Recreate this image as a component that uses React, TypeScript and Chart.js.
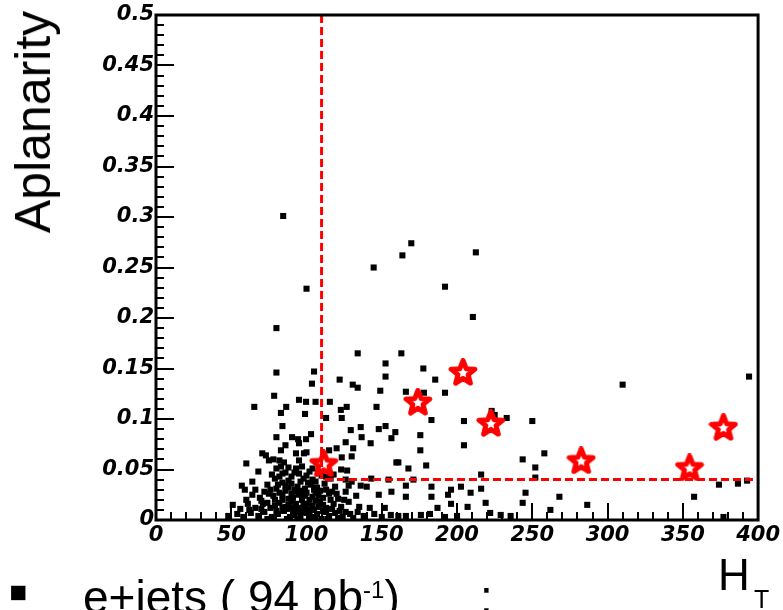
import React, { useEffect, useRef } from "react";
import { Chart, registerables } from "chart.js";

Chart.register(...registerables);

const xTickValues = [0, 50, 100, 150, 200, 250, 300, 350, 400];
const xTickLabels = ["0", "50", "100", "150", "200", "250", "300", "350", "400"];
const yTickLabels = ["0", "0.05", "0.1", "0.15", "0.2", "0.25", "0.3", "0.35", "0.4", "0.45", "0.5"];

// Selected candidate events (red stars): [HT, Aplanarity]
const candidateEvents: [number, number][] = [
  [111.5, 0.056], [174, 0.117], [204, 0.1465], [222.5, 0.096],
  [282.5, 0.059], [354.5, 0.052], [377, 0.092],
];

// Cut lines: HT > 110, Aplanarity > 0.04
const cutHT = [110, 110, 397];
const cutApl = [0.5, 0.04, 0.04];

// Data events (black squares): [HT, Aplanarity]
const sparseEvents: [number, number][] = [
  [84.5, 0.301], [169.6, 0.274], [163.7, 0.262], [212.5, 0.265], [144.6, 0.25], [192, 0.231], [100, 0.229],
  [210.5, 0.201], [80, 0.19], [134, 0.165], [163, 0.165],
  [152.5, 0.155], [177.6, 0.15], [80, 0.146], [105, 0.147], [122, 0.139], [103.6, 0.135], [130.7, 0.134],
  [134, 0.131], [152.5, 0.142], [185.5, 0.139], [149, 0.128], [166, 0.127], [192, 0.126], [178, 0.126],
  [310, 0.134], [394, 0.142],
];

const midEvents: [number, number][] = [
  [78.5, 0.123], [95, 0.119], [99.7, 0.117], [106, 0.117], [115.5, 0.117], [65.3, 0.112], [83, 0.106],
  [86.5, 0.112], [99, 0.105], [122.8, 0.109], [126.7, 0.112], [123.4, 0.101], [113, 0.101], [146.5, 0.112],
  [183, 0.099], [204.6, 0.098], [223, 0.108], [225, 0.104], [233, 0.101], [250, 0.098],
  [84, 0.093], [129.4, 0.089], [136, 0.092], [148, 0.09], [152.5, 0.093], [159, 0.087], [80, 0.082],
  [90.4, 0.082], [94.4, 0.08], [99.7, 0.08], [103, 0.085], [136.6, 0.082], [142.6, 0.076], [156.4, 0.081],
  [175.6, 0.084], [204.6, 0.074], [126, 0.077], [86, 0.074], [95, 0.076],
  [83, 0.069], [93, 0.066], [98.3, 0.066], [100, 0.067], [70.6, 0.066], [115, 0.069], [120, 0.071],
  [131, 0.071], [123.4, 0.062], [175.6, 0.069], [73, 0.064], [130, 0.063], [159.7, 0.057], [179.5, 0.054],
  [167.7, 0.051], [258, 0.066], [243.6, 0.06], [252, 0.052], [216, 0.045], [161, 0.057], [143, 0.041],
  [123, 0.05], [75, 0.059], [82, 0.059], [95, 0.059],
];

const lowRightEvents: [number, number][] = [
  [116, 0.041], [130, 0.038], [154.5, 0.04], [171, 0.04], [252, 0.042], [140, 0.033], [156.4, 0.028],
  [166, 0.034], [183, 0.033], [196, 0.03], [202.6, 0.033], [209, 0.027], [216, 0.031], [245.5, 0.027],
  [268, 0.023], [148, 0.025], [166, 0.023], [183, 0.023], [194, 0.025], [219, 0.017], [243.6, 0.017],
  [286.5, 0.015], [357.5, 0.023], [374, 0.035], [386.6, 0.036], [392.7, 0.039], [126, 0.028],
  [135, 0.013], [152, 0.012], [187, 0.012], [196, 0.016], [207, 0.013], [222, 0.007], [229, 0.005],
  [235.6, 0.004], [262, 0.01], [377, 0.003], [200, 0.004], [176, 0.005], [166, 0.004], [182, 0.006],
  [192, 0.003],
];

const clusterEvents: [number, number][] = [
  [60, 0.056], [78, 0.06], [80, 0.051], [83, 0.053], [88, 0.052], [93, 0.051], [97, 0.053], [104, 0.051], [85, 0.057],
  [77, 0.045], [82, 0.043], [86, 0.047], [90, 0.043], [95, 0.046], [100, 0.044], [108, 0.047], [113, 0.043],
  [68, 0.048], [127, 0.049], [104, 0.04],
  [57, 0.034], [74, 0.035], [84, 0.037], [88, 0.032], [92, 0.03], [103, 0.035], [107, 0.032], [96, 0.038],
  [80, 0.031], [64, 0.038], [112, 0.036], [119, 0.033], [128, 0.034], [136, 0.034], [59, 0.03],
  [64, 0.025], [69, 0.022], [75, 0.026], [84, 0.025], [88, 0.021], [93, 0.028], [99, 0.024], [102, 0.02],
  [106, 0.027], [111, 0.022], [115, 0.026], [121, 0.021], [79, 0.02], [60, 0.02], [133, 0.024], [97, 0.029], [90, 0.026],
  [51, 0.015], [61, 0.016], [71, 0.016], [76, 0.012], [82, 0.017], [86, 0.013], [90, 0.018], [95, 0.012],
  [98, 0.016], [104, 0.014], [109, 0.018], [113, 0.012], [118, 0.016], [123, 0.013], [128, 0.018], [56, 0.011],
  [66, 0.012], [142, 0.012], [101, 0.01], [92, 0.009],
  [48, 0.004], [54, 0.006], [58, 0.003], [63, 0.007], [68, 0.004], [72, 0.008], [77, 0.003], [81, 0.006],
  [85, 0.009], [89, 0.003], [92, 0.005], [96, 0.004], [100, 0.007], [103, 0.003], [107, 0.006], [111, 0.009],
  [115, 0.004], [119, 0.007], [124, 0.003], [129, 0.006], [134, 0.008], [138, 0.004], [145, 0.006], [150, 0.003],
  [156, 0.005], [161, 0.004], [87, 0.001], [94, 0.001], [74, 0.001], [110, 0.001],
];

const coreEvents: [number, number][] = [
  [79, 0.041], [84, 0.046], [88, 0.039], [92, 0.047], [98, 0.041], [102, 0.048], [106, 0.038], [110, 0.044],
  [81, 0.035], [86, 0.034], [90, 0.036], [94, 0.033], [99, 0.031], [101, 0.037], [105, 0.03], [109, 0.029],
  [76, 0.03], [82, 0.027], [86, 0.029], [91, 0.022], [95, 0.025], [100, 0.027], [104, 0.023], [108, 0.024],
  [113, 0.03], [117, 0.028], [78, 0.024], [72, 0.028], [70, 0.019], [74, 0.017], [79, 0.014], [84, 0.02],
  [88, 0.015], [93, 0.016], [97, 0.02], [101, 0.016], [106, 0.019], [111, 0.015], [116, 0.02], [120, 0.026],
  [125, 0.02], [80, 0.009], [84, 0.012], [89, 0.011], [94, 0.008], [98, 0.012], [105, 0.01], [108, 0.013],
  [113, 0.008], [117, 0.011], [122, 0.009], [66, 0.03], [62, 0.01], [70, 0.011], [126, 0.04], [118, 0.045],
  [97, 0.008], [102, 0.005], [106, 0.002], [114, 0.001], [121, 0.002], [126, 0.008], [131, 0.002], [91, 0.012],
];

function makeStar(): HTMLCanvasElement {
  const c = document.createElement("canvas");
  c.width = 30;
  c.height = 28;
  const ctx = c.getContext("2d")!;
  const cx = 15, cy = 15, R = 12.5, r = 5.4;
  ctx.beginPath();
  for (let i = 0; i < 10; i++) {
    const ang = -Math.PI / 2 + (i * Math.PI) / 5;
    const rad = i % 2 === 0 ? R : r;
    const px = cx + rad * Math.cos(ang);
    const py = cy + rad * Math.sin(ang);
    if (i === 0) ctx.moveTo(px, py);
    else ctx.lineTo(px, py);
  }
  ctx.closePath();
  ctx.strokeStyle = "#ff0000";
  ctx.lineWidth = 5;
  ctx.lineJoin = "round";
  ctx.stroke();
  return c;
}

const framePlugin = {
  id: "frameTicks",
  afterDraw(chart: any) {
    const { ctx, chartArea, scales } = chart;
    const { left, right, top, bottom } = chartArea;
    const xs = scales.x;
    const ys = scales.y;
    ctx.save();
    ctx.strokeStyle = "#000";
    ctx.lineWidth = 2;
    ctx.beginPath();
    for (let v = 0; v <= 400; v += 10) {
      const px = Math.round(xs.getPixelForValue(v));
      const len = v % 50 === 0 ? 17 : 8;
      ctx.moveTo(px, bottom);
      ctx.lineTo(px, bottom - len);
    }
    for (let i = 0; i <= 50; i++) {
      const v = i / 100;
      const py = Math.round(ys.getPixelForValue(v));
      const len = i % 5 === 0 ? 18 : 8;
      ctx.moveTo(left, py);
      ctx.lineTo(left + len, py);
    }
    ctx.stroke();
    ctx.lineWidth = 3;
    ctx.beginPath();
    ctx.rect(left, top, right - left, bottom - top);
    ctx.stroke();
    ctx.restore();
  },
};

const tickFont = { family: "DejaVu Sans", size: 21, style: "italic" as const, weight: "bold" as const };

export default function App() {
  const ref = useRef<HTMLCanvasElement | null>(null);

  useEffect(() => {
    const star = makeStar();
    const black = [...sparseEvents, ...midEvents, ...lowRightEvents, ...clusterEvents, ...coreEvents].map(([x, y]) => ({ x, y }));
    const chart = new Chart(ref.current!, {
      type: "scatter",
      data: {
        datasets: [
          {
            label: "candidates",
            data: candidateEvents.map(([x, y]) => ({ x, y })),
            pointStyle: star as any,
            pointRadius: 12,
            order: 0,
          },
          {
            label: "cuts",
            data: cutHT.map((x, i) => ({ x, y: cutApl[i] })),
            showLine: true,
            borderColor: "#ff0000",
            borderWidth: 3,
            borderDash: [8, 4],
            pointRadius: 0,
            fill: false,
            order: 1,
          },
          {
            label: "events",
            data: black,
            pointStyle: "rect",
            pointRadius: 4.3,
            borderWidth: 0,
            backgroundColor: "#000",
            borderColor: "#000",
            order: 2,
          },
        ],
      },
      options: {
        responsive: false,
        animation: false,
        devicePixelRatio: 1,
        layout: { padding: { left: 0, right: 21, top: 15, bottom: 0 } },
        plugins: { legend: { display: false }, tooltip: { enabled: false } },
        scales: {
          x: {
            type: "linear",
            min: 0,
            max: 400,
            afterFit: (s: any) => { s.height = 90; },
            afterBuildTicks: (s: any) => { s.ticks = xTickValues.map((v) => ({ value: v })); },
            grid: { display: false, drawTicks: false },
            border: { display: false },
            ticks: {
              autoSkip: false,
              maxRotation: 0,
              padding: 3,
              color: "#000",
              font: tickFont,
              callback: (_v: any, i: number) => xTickLabels[i],
            },
          },
          y: {
            type: "linear",
            min: 0,
            max: 0.5,
            afterFit: (s: any) => { s.width = 156; },
            afterBuildTicks: (s: any) => { s.ticks = yTickLabels.map((_, i) => ({ value: i * 0.05 })); },
            grid: { display: false, drawTicks: false },
            border: { display: false },
            ticks: {
              autoSkip: false,
              padding: 2,
              color: "#000",
              font: tickFont,
              callback: (_v: any, i: number) => yTickLabels[i],
            },
          },
        },
      },
      plugins: [framePlugin],
    });
    return () => chart.destroy();
  }, []);

  const sans = '"Liberation Sans", Arial, sans-serif';
  return (
    <div style={{ position: "absolute", left: 0, top: 0, width: 783, height: 610, overflow: "hidden", background: "#fff" }}>
      <canvas ref={ref} width={783} height={610} style={{ position: "absolute", left: 0, top: 0 }} />
      <div
        style={{
          position: "absolute", left: 33, top: 122, fontFamily: sans, fontSize: 50, lineHeight: 1,
          whiteSpace: "nowrap", transform: "translate(-50%, -50%) rotate(-90deg)", color: "#000",
        }}
      >
        Aplanarity
      </div>
      <div style={{ position: "absolute", left: 718, top: 553, fontFamily: sans, fontSize: 44, lineHeight: 1, color: "#000" }}>H</div>
      <div style={{ position: "absolute", left: 754, top: 587, fontFamily: sans, fontSize: 25, lineHeight: 1, color: "#000" }}>T</div>
      <div style={{ position: "absolute", left: 8, top: 562, fontFamily: sans, fontSize: 58, lineHeight: 1, color: "#000" }}>▪</div>
      <div style={{ position: "absolute", left: 83, top: 574, fontFamily: sans, fontSize: 46, lineHeight: 1, whiteSpace: "nowrap", color: "#000" }}>
        e+jets ( 94 pb<span style={{ fontSize: 24, verticalAlign: "top", position: "relative", top: 4 }}>-1</span>)
      </div>
      <div style={{ position: "absolute", left: 480, top: 574, fontFamily: sans, fontSize: 46, lineHeight: 1, color: "#000" }}>:</div>
    </div>
  );
}
